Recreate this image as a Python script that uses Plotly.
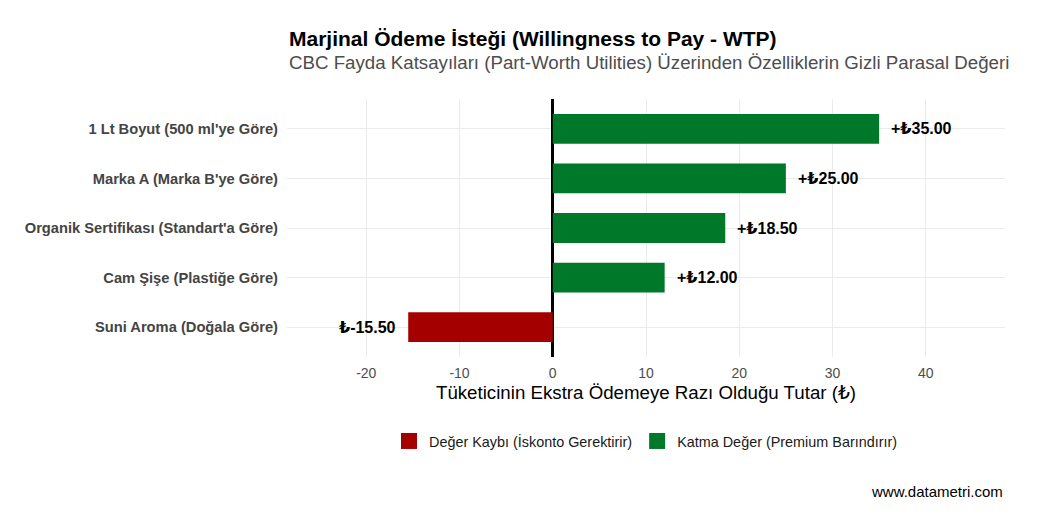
import plotly.graph_objects as go

categories = [
    "1 Lt Boyut (500 ml'ye Göre)",
    "Marka A (Marka B'ye Göre)",
    "Organik Sertifikası (Standart'a Göre)",
    "Cam Şişe (Plastiğe Göre)",
    "Suni Aroma (Doğala Göre)",
]
wtp = [35.00, 25.00, 18.50, 12.00, -15.50]
labels = ["+₺35.00", "+₺25.00", "+₺18.50", "+₺12.00", "₺-15.50"]
legend_names = ["Değer Kaybı (İskonto Gerektirir)", "Katma Değer (Premium Barındırır)"]
colors = ["#A50000", "#00782A"]
x_ticks = [-20, -10, 0, 10, 20, 30, 40]

FONT = "Liberation Sans, Arial, DejaVu Sans, sans-serif"

fig = go.Figure()
neg = [(c, v) for c, v in zip(categories, wtp) if v < 0]
pos = [(c, v) for c, v in zip(categories, wtp) if v >= 0]
for name, color, items in [(legend_names[0], colors[0], neg), (legend_names[1], colors[1], pos)]:
    fig.add_trace(go.Bar(
        y=[c for c, _ in items], x=[v for _, v in items],
        orientation="h", name=name, marker=dict(color=color, line=dict(width=0)),
        width=0.6, hoverinfo="x+y", showlegend=False,
    ))
    # legend-only entry with a larger square swatch
    fig.add_trace(go.Scatter(
        x=[None], y=[None], mode="markers", name=name,
        marker=dict(symbol="square", size=20, color=color),
        showlegend=True,
    ))

for c, v, t in zip(categories, wtp, labels):
    fig.add_annotation(
        x=v, y=c, text=f"<b>{t}</b>", showarrow=False,
        xanchor="left" if v >= 0 else "right",
        xshift=10 if v >= 0 else -10,
        font=dict(family=FONT, size=16, color="black"),
    )

# Title and subtitle
fig.add_annotation(
    x=0, y=1, xref="paper", yref="paper", xanchor="left", yanchor="middle",
    yshift=61, showarrow=False,
    text="<b>Marjinal Ödeme İsteği (Willingness to Pay - WTP)</b>",
    font=dict(family=FONT, size=21, color="black"),
)
fig.add_annotation(
    x=0, y=1, xref="paper", yref="paper", xanchor="left", yanchor="middle",
    yshift=37, showarrow=False,
    text="CBC Fayda Katsayıları (Part-Worth Utilities) Üzerinden Özelliklerin Gizli Parasal Değeri",
    font=dict(family=FONT, size=18.7, color="#4d4d4d"),
)
# Caption
fig.add_annotation(
    x=1, y=0, xref="paper", yref="paper", xanchor="right", yanchor="middle",
    yshift=-134, showarrow=False,
    text="www.datametri.com",
    font=dict(family=FONT, size=15, color="black"),
)

fig.update_layout(
    width=1029, height=505,
    margin=dict(l=279, r=32, t=91, b=156),
    paper_bgcolor="white", plot_bgcolor="white",
    font=dict(family=FONT, color="#333333"),
    showlegend=True,
    legend=dict(
        orientation="h", x=0.5, xanchor="center", y=-0.326, yanchor="middle",
        font=dict(family=FONT, size=14.4, color="#1a1a1a"),
        traceorder="normal", itemsizing="trace",
    ),
    barmode="overlay",
)

fig.update_xaxes(
    range=[-28.5, 48.5], tickvals=x_ticks, ticktext=[str(t) for t in x_ticks],
    showgrid=True, gridcolor="#ebebeb", gridwidth=1,
    zeroline=True, zerolinecolor="black", zerolinewidth=2.5,
    tickfont=dict(family=FONT, size=14, color="#4d4d4d"),
    title=dict(text="Tüketicinin Ekstra Ödemeye Razı Olduğu Tutar (₺)",
               font=dict(family=FONT, size=18.7, color="black"), standoff=5),
    ticks="", showline=False, ticklabelstandoff=6,
)
fig.update_yaxes(
    categoryorder="array", categoryarray=categories[::-1],
    range=[-0.6, 4.6],
    showgrid=True, gridcolor="#ebebeb", gridwidth=1,
    tickfont=dict(family=FONT, size=14.7, color="#444444"),
    tickprefix="<b>", ticksuffix="</b>",
    ticks="", showline=False, ticklabelstandoff=8,
)

fig.write_html("out.html")
